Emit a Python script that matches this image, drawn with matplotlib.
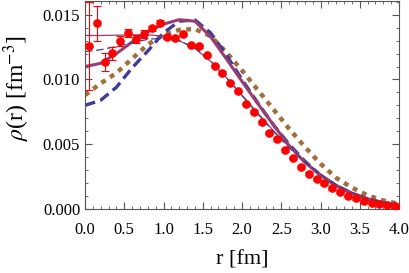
import matplotlib
matplotlib.use("Agg")
import matplotlib.pyplot as plt
from matplotlib.ticker import MultipleLocator

plt.rcParams["font.family"] = ["Liberation Serif", "DejaVu Serif"]
plt.rcParams["mathtext.fontset"] = "stix"

# data points with error bars
r_data = [0.05, 0.15, 0.25, 0.35, 0.45, 0.55, 0.65, 0.75, 0.85, 0.95,
          1.05, 1.15, 1.25, 1.35, 1.45, 1.55, 1.65, 1.75, 1.85, 1.95,
          2.05, 2.15, 2.25, 2.35, 2.45, 2.55, 2.65, 2.75, 2.85, 2.95,
          3.05, 3.15, 3.25, 3.35, 3.45, 3.55, 3.65, 3.75, 3.85, 3.95]
rho_data = [0.01262, 0.01436, 0.01136, 0.01202, 0.01295, 0.01359, 0.01315, 0.01351, 0.01395, 0.01438,
            0.01331, 0.01323, 0.01350, 0.01267, 0.01256, 0.01190, 0.01105, 0.01053, 0.00974, 0.00912,
            0.00810, 0.00752, 0.00669, 0.00586, 0.00538, 0.00452, 0.00393, 0.00323, 0.00274, 0.00232,
            0.00197, 0.00159, 0.00133, 0.00100, 0.00082, 0.00062, 0.00048, 0.00036, 0.00031, 0.00021]
rho_err = [0.0034, 0.00135, 0.0007, 0.0005, 0.0004, 0.0003, 0.0003, 0.0003, 0.0002, 0.0002,
           0.00015, 0.00015, 0.00012, 0.0001, 0.0001, 0.0001, 0.0001, 0.0001, 0.0001, 0.0001,
           0.0001, 0.0001, 0.0001, 0.0001, 0.0001, 0.0001, 0.0001, 0.0001, 0.0001, 0.0001,
           0.0001, 0.0001, 0.0001, 0.0001, 0.0001, 0.0001, 0.0001, 0.0001, 0.0001, 0.0001]

# model curves
r_curve = [0.0, 0.2, 0.4, 0.6, 0.8, 1.0, 1.2, 1.4, 1.6, 1.8, 2.0,
           2.2, 2.4, 2.6, 2.8, 3.0, 3.2, 3.4, 3.6, 3.8, 4.0]
rho_purple = [0.01100, 0.01125, 0.01200, 0.01290, 0.01368, 0.01428, 0.01462, 0.01450, 0.01330, 0.01160, 0.00985,
              0.00815, 0.00650, 0.00490, 0.00360, 0.00260, 0.00180, 0.00120, 0.00078, 0.00048, 0.00030]
rho_blue = [0.00800, 0.00840, 0.00940, 0.01090, 0.01220, 0.01360, 0.01450, 0.01460, 0.01360, 0.01190, 0.01000,
            0.00820, 0.00650, 0.00500, 0.00370, 0.00260, 0.00180, 0.00120, 0.00077, 0.00048, 0.00030]
rho_brown = [0.00880, 0.00970, 0.01050, 0.01160, 0.01270, 0.01345, 0.01383, 0.01390, 0.01335, 0.01210, 0.01070,
             0.00920, 0.00770, 0.00620, 0.00480, 0.00350, 0.00240, 0.00165, 0.00105, 0.00065, 0.00040]
rho_purple_fit = [0.01340, 0.01340, 0.01342, 0.01345, 0.01345, 0.01335, 0.01300, 0.01240, 0.01140, 0.01015, 0.00880,
                  0.00740, 0.00605, 0.00480, 0.00370, 0.00270, 0.00190, 0.00130, 0.00085, 0.00055, 0.00034]
rho_blue_fit = [0.01215, 0.01230, 0.01255, 0.01285, 0.01310, 0.01320, 0.01300, 0.01245, 0.01145, 0.01015, 0.00875,
                0.00735, 0.00600, 0.00475, 0.00365, 0.00268, 0.00188, 0.00127, 0.00083, 0.00052, 0.00032]

BLUE = "#3d3d99"
PURPLE = "#993d71"
BROWN = "#a0703c"

fig = plt.figure(figsize=(4.09, 2.73), dpi=100)
ax = fig.add_axes([85 / 409, 64 / 273, 314 / 409, 208.5 / 273])

ax.plot(r_curve, rho_brown, color=BROWN, lw=3.2, linestyle=(0, (1.1, 1.2)))
ax.plot(r_curve, rho_blue, color=BLUE, lw=2.4, linestyle=(0, (3.2, 1.6)))
ax.plot(r_curve, rho_purple, color=PURPLE, lw=2.2)
ax.plot(r_curve, rho_purple_fit, color=PURPLE, lw=0.9)
ax.plot(r_curve, rho_blue_fit, color=BLUE, lw=0.9, linestyle=(0, (6, 3)))

ax.errorbar(r_data, rho_data, yerr=rho_err, fmt="o", color="red", ms=5.2,
            elinewidth=0.8, capsize=2.8, capthick=0.8, zorder=5)

ax.set_xlim(0, 4)
ax.set_ylim(0, 0.0161)
ax.xaxis.set_major_locator(MultipleLocator(0.5))
ax.xaxis.set_minor_locator(MultipleLocator(0.1))
ax.yaxis.set_major_locator(MultipleLocator(0.005))
ax.yaxis.set_minor_locator(MultipleLocator(0.001))
ax.xaxis.set_major_formatter(plt.FuncFormatter(lambda v, p: f"{v:.1f}"))
ax.yaxis.set_major_formatter(plt.FuncFormatter(lambda v, p: f"{v:.3f}"))
ax.tick_params(which="both", direction="in", top=True, right=True,
               labelsize=12, color="#555555")
ax.tick_params(axis="x", which="major", pad=9)
ax.tick_params(which="major", length=5, width=0.8)
ax.tick_params(which="minor", length=2.5, width=0.6)
for s in ax.spines.values():
    s.set_color("#555555")
    s.set_linewidth(0.8)

ax.set_xlabel("r [fm]", fontsize=16, labelpad=9)
ax.set_ylabel(r"$\rho$(r) [fm$^{-3}$]", fontsize=17)
ax.yaxis.set_label_coords(-0.17, 0.58)

fig.savefig("out.png", dpi=100)
